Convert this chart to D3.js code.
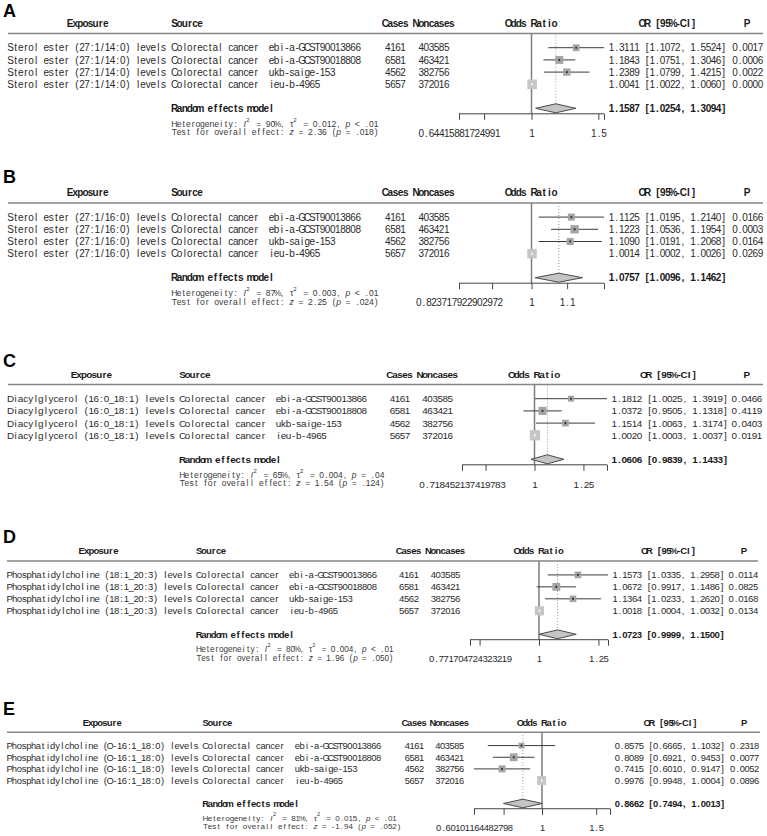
<!DOCTYPE html>
<meta charset="utf-8">
<body style="margin:0;background:#fff">
<style>
svg { display: block; font-family: "Liberation Sans", Arial, sans-serif; }
svg text { white-space: pre; }
.body { fill: #2a2a2a; }
.hdr { fill: #1a1a1a; font-weight: bold; }
.het { fill: #3a3a3a; }
.axis path, .axis line { stroke: #444; stroke-width: 1px; }
.axis text { fill: #2a2a2a; font-family: "Liberation Sans", Arial, sans-serif; }
</style>
<script src="https://cdn.jsdelivr.net/npm/d3@7"></script>
<script>
var width = 767, height = 836;

// ---------- data ----------
var letters = ["A", "B", "C", "D", "E"];
var exposures = [
  "Sterol ester (27:1/14:0) levels",
  "Sterol ester (27:1/16:0) levels",
  "Diacylglycerol (16:0_18:1) levels",
  "Phosphatidylcholine (18:1_20:3) levels",
  "Phosphatidylcholine (O-16:1_18:0) levels"
];
var outcome = "Colorectal cancer";
var sources = ["ebi-a-GCST90013866", "ebi-a-GCST90018808", "ukb-saige-153", "ieu-b-4965"];
var cases = [4161, 6581, 4562, 5657];
var noncases = [403585, 463421, 382756, 372016];

var studyOR = [
  [1.3111, 1.1843, 1.2389, 1.0041],
  [1.1125, 1.1223, 1.1090, 1.0014],
  [1.1812, 1.0372, 1.1514, 1.0020],
  [1.1573, 1.0672, 1.1364, 1.0018],
  [0.8575, 0.8089, 0.7415, 0.9976]
];
var studyLo = [
  [1.1072, 1.0751, 1.0799, 1.0022],
  [1.0195, 1.0536, 1.0191, 1.0002],
  [1.0025, 0.9505, 1.0063, 1.0003],
  [1.0335, 0.9917, 1.0233, 1.0004],
  [0.6665, 0.6921, 0.6010, 0.9948]
];
var studyHi = [
  [1.5524, 1.3046, 1.4215, 1.0060],
  [1.2140, 1.1954, 1.2068, 1.0026],
  [1.3919, 1.1318, 1.3174, 1.0037],
  [1.2958, 1.1486, 1.2620, 1.0032],
  [1.1032, 0.9453, 0.9147, 1.0004]
];
var studyP = [
  ["0.0017", "0.0006", "0.0022", "0.0000"],
  ["0.0166", "0.0003", "0.0164", "0.0269"],
  ["0.0466", "0.4119", "0.0403", "0.0191"],
  ["0.0114", "0.0825", "0.0168", "0.0134"],
  ["0.2318", "0.0077", "0.0052", "0.0896"]
];
// study weights (%)
var studyW = [
  [17.8, 24.6, 20.9, 36.7],
  [19, 27, 19, 35],
  [14, 26, 18, 42],
  [19, 26.5, 18.5, 36],
  [15, 27, 22, 36]
];

var reOR = [1.1587, 1.0757, 1.0606, 1.0723, 0.8662];
var reLo = [1.0254, 1.0096, 0.9839, 0.9999, 0.7494];
var reHi = [1.3094, 1.1462, 1.1433, 1.1500, 1.0013];
var hetI2 = ["90%", "87%", "65%", "80%", "81%"];
var hetTau2 = ["0.012", "0.003", "0.004", "0.004", "0.015"];
var hetP = ["< .01", "< .01", "= .04", "< .01", "< .01"];
var testZ = ["2.36", "2.25", "1.54", "1.96", "-1.94"];
var testP = [".018", ".024", ".124", ".050", ".052"];

var minLabels = ["0.64415881724991", "0.823717922902972", "0.718452137419783", "0.771704724323219", "0.60101164482798"];
var minorTicks = [0.75, 0.9, 0.8, 0.8, 0.75];
var majorTicks = [1.5, 1.1, 1.25, 1.25, 1.5];

// ---------- layout (pixels) ----------
var layout = [
  {top: 23.3, letterY: 16.7, cw: 5.1, vs: 1, expo: 8, src: 172, id: 269, casesC: 395.5, nonC: 434, plot: [459, 604], orX: 609, pEnd: 763, expoH: 88, orH: 668, pH: 747, line: [8, 763]},
  {top: 192.7, letterY: 183.3, cw: 5.1, vs: 1, expo: 8, src: 172, id: 269, casesC: 395.5, nonC: 434, plot: [459, 604], orX: 609, pEnd: 763, expoH: 88, orH: 668, pH: 747, line: [8, 763]},
  {top: 374.3, letterY: 366.7, cw: 5.05, vs: 1, expo: 8, src: 180, id: 276, casesC: 400, nonC: 437.7, plot: [462, 607], orX: 611.7, pEnd: 762, expoH: 91.7, orH: 669, pH: 746.7, line: [8, 763]},
  {top: 551, letterY: 543.3, cw: 4.86, vs: 0.98, expo: 7.3, src: 196.7, id: 289.3, casesC: 409, nonC: 445.5, plot: [470, 608], orX: 612.7, pEnd: 758, expoH: 98.8, orH: 669, pH: 744, line: [7, 758]},
  {top: 722.3, letterY: 715, cw: 4.78, vs: 0.955, expo: 7.3, src: 203.3, id: 295, casesC: 414.5, nonC: 449.7, plot: [474, 610], orX: 615, pEnd: 759, expoH: 102.5, orH: 671, pH: 744, line: [7, 760]}
];

var svg = d3.select("body").append("svg")
    .attr("width", width)
    .attr("height", height);

// x centres of each character cell (the original text has a fixed advance)
function cells(x0, s, cw) {
  return s.split("").map(function(c, i) { return (x0 + (i + 0.5) * cw).toFixed(2); }).join(" ");
}

function mono(g, x, yc, s, cw, fs, anchor, cls) {
  var w = s.length * cw;
  var x0 = anchor == "middle" ? x - w / 2 : anchor == "end" ? x - w : x;
  return g.append("text").attr("class", cls)
      .attr("x", cells(x0, s, cw)).attr("y", yc + 0.36 * fs)
      .attr("text-anchor", "middle")
      .style("font-size", fs + "px")
      .text(s);
}

function monoParts(g, x, yc, parts, cw, fs, cls) {
  var col = 0;
  parts.forEach(function(p) {
    if (p.sup) {
      g.append("text").attr("class", cls)
        .attr("x", x + (col + 0.2) * cw).attr("y", yc - 0.25 * fs)
        .attr("text-anchor", "middle")
        .style("font-size", (fs * 0.7) + "px")
        .text(p.s);
      col += 1;
      return;
    }
    var t = mono(g, x + col * cw, yc, p.s, cw, fs, "start", cls);
    if (p.it) t.style("font-style", "italic");
    col += p.s.length;
  });
}

letters.forEach(function(letter, k) {
  var L = layout[k];
  var g = svg.append("g");
  var cw = L.cw, fs = 10 * cw / 5.1, vs = L.vs;
  var Y = function(off) { return L.top + vs * off; };
  var rowY = function(i) { return Y(24.4 + 12.2 * i); };

  g.append("text")
    .attr("x", 3).attr("y", L.letterY)
    .style("font-size", "18px").style("font-weight", "bold").style("fill", "#000")
    .text(letter);

  // symmetric log scale around 1, from the widest CI
  var m = d3.max(studyLo[k].concat(studyHi[k]), function(v) { return Math.abs(Math.log(v)); });
  var x = d3.scaleLog().domain([Math.exp(-m), Math.exp(m)]).range(L.plot);
  var xc = (L.plot[0] + L.plot[1]) / 2;

  // header
  mono(g, L.expoH, Y(0), "Exposure", cw, fs, "middle", "hdr");
  mono(g, L.src, Y(0), "Source", cw, fs, "start", "hdr");
  mono(g, L.casesC, Y(0), "Cases", cw, fs, "middle", "hdr");
  mono(g, L.nonC, Y(0), "Noncases", cw, fs, "middle", "hdr");
  mono(g, xc, Y(0), "Odds Ratio", cw, fs, "middle", "hdr");
  mono(g, L.orH, Y(0), "OR [95%-CI]", cw, fs, "middle", "hdr");
  mono(g, L.pH, Y(0), "P", cw, fs, "middle", "hdr");

  g.append("line")
    .attr("x1", L.line[0]).attr("x2", L.line[1])
    .attr("y1", Y(10.3)).attr("y2", Y(10.3))
    .attr("stroke", "#858585").attr("stroke-width", 1.5);

  var yRE = Y(85), yAxis = Y(90.5), dh = 4.5 * vs;

  // reference line at 1 and dotted line at pooled estimate
  g.append("line")
    .attr("x1", x(1)).attr("x2", x(1))
    .attr("y1", Y(10.3)).attr("y2", yAxis)
    .attr("stroke", "#7d7d7d").attr("stroke-width", 1.5);
  g.append("line")
    .attr("x1", x(reOR[k])).attr("x2", x(reOR[k]))
    .attr("y1", Y(10.3)).attr("y2", yRE - dh)
    .attr("stroke", "#9a9a9a").attr("stroke-width", 1)
    .attr("stroke-dasharray", "1,2");

  // study rows
  sources.forEach(function(src, i) {
    var yy = rowY(i);
    mono(g, L.expo, yy, exposures[k], cw, fs, "start", "body");
    mono(g, L.src, yy, outcome, cw, fs, "start", "body");
    mono(g, L.id, yy, src, cw, fs, "start", "body");
    mono(g, L.casesC, yy, String(cases[i]), cw, fs, "middle", "body");
    mono(g, L.nonC, yy, String(noncases[i]), cw, fs, "middle", "body");
    var ci = studyOR[k][i].toFixed(4) + " [" + studyLo[k][i].toFixed(4) + ", " + studyHi[k][i].toFixed(4) + "]";
    mono(g, L.orX, yy, ci, cw, fs, "start", "body");
    mono(g, L.pEnd, yy, studyP[k][i], cw, fs, "end", "body");

    var x1 = x(studyLo[k][i]), x2 = x(studyHi[k][i]), xm = x(studyOR[k][i]);
    var side = 1.6 * Math.sqrt(studyW[k][i]) * cw / 5.1;
    var inside = (x2 - x1) < side;
    g.append("line")
      .attr("x1", x1).attr("x2", x2).attr("y1", yy).attr("y2", yy)
      .attr("stroke", "#3a3a3a").attr("stroke-width", 1);
    g.append("rect")
      .attr("x", xm - side / 2).attr("y", yy - side / 2)
      .attr("width", side).attr("height", side)
      .attr("fill", inside ? "#c6c6c6" : "#a4a4a4");
    g.append("rect")
      .attr("x", xm - 0.8).attr("y", yy - 1)
      .attr("width", 1.6).attr("height", 2)
      .attr("fill", inside ? "#fff" : "#222");
  });

  // pooled estimate
  mono(g, L.src, yRE, "Random effects model", cw, fs, "start", "hdr");
  var reTxt = reOR[k].toFixed(4) + " [" + reLo[k].toFixed(4) + ", " + reHi[k].toFixed(4) + "]";
  mono(g, L.orX, yRE, reTxt, cw, fs, "start", "hdr");
  var dx = [x(reLo[k]), x(reOR[k]), x(reHi[k])];
  g.append("path")
    .attr("d", "M" + dx[0] + "," + yRE + "L" + dx[1] + "," + (yRE - dh) +
               "L" + dx[2] + "," + yRE + "L" + dx[1] + "," + (yRE + dh) + "Z")
    .attr("fill", "#c4c4c4").attr("stroke", "#4a4a4a").attr("stroke-width", 1);

  // heterogeneity + overall effect
  var hcw = cw * 0.92, hfs = fs * 0.86;
  monoParts(g, L.src, Y(100.5), [
    {s: "Heterogeneity: "}, {s: "I", it: true}, {s: "2", sup: true},
    {s: " = " + hetI2[k] + ", "}, {s: "\u03c4"}, {s: "2", sup: true},
    {s: " = " + hetTau2[k] + ", "}, {s: "p", it: true}, {s: " " + hetP[k]}
  ], hcw, hfs, "het");
  monoParts(g, L.src, Y(109), [
    {s: "Test for overall effect: "}, {s: "z", it: true},
    {s: " = " + testZ[k] + " ("}, {s: "p", it: true}, {s: " = " + testP[k] + ")"}
  ], hcw, hfs, "het");

  // x axis
  var dom = x.domain();
  var tv = [dom[0], minorTicks[k], 1, majorTicks[k], dom[1]];
  var tl = [minLabels[k], "", "1", String(majorTicks[k]), ""];
  var ax = g.append("g").attr("class", "axis")
      .attr("transform", "translate(0," + yAxis + ")")
      .call(d3.axisBottom(x).tickValues(tv)
        .tickFormat(function(d, i) { return tl[i]; })
        .tickSize(6).tickSizeOuter(0).tickPadding(10 * vs));
  ax.select(".domain").attr("d", "M" + L.plot[0] + ",0H" + L.plot[1]);
  ax.selectAll("text")
    .attr("font-size", null).attr("font-family", null)
    .style("font-size", fs + "px")
    .each(function() {
      var s = d3.select(this).text();
      d3.select(this).attr("x", cells(-s.length * cw / 2, s, cw));
    });
});
</script>
</body>
